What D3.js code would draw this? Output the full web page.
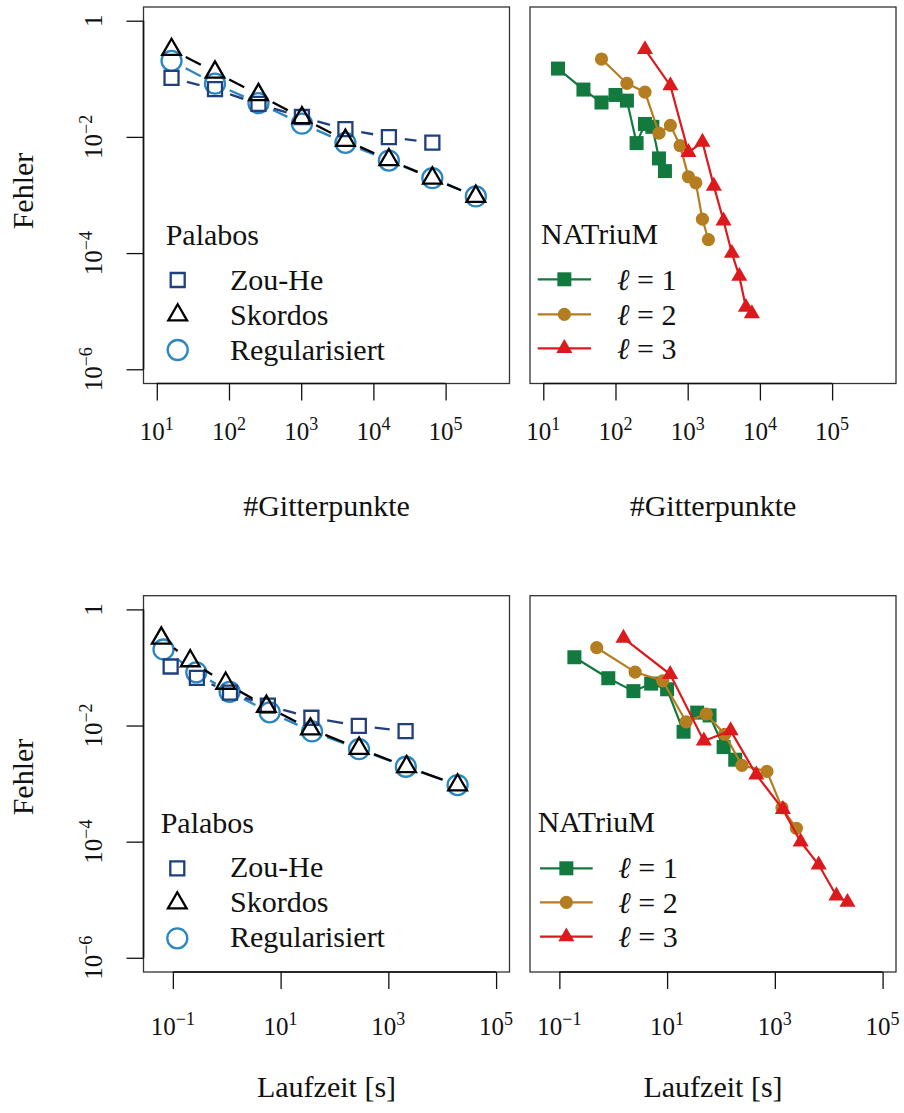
<!DOCTYPE html>
<html>
<head>
<meta charset="utf-8">
<script src="https://cdn.jsdelivr.net/npm/d3@7"></script>
<style>
    body { margin: 0; background: #fff; }
    svg text { font-family: "Liberation Serif", "DejaVu Serif", serif; fill: #111; }
</style>
</head>
<body>
<svg id="chart" width="904" height="1113" font-family="Liberation Serif, DejaVu Serif, serif"></svg>
<script>
// ---- data ----
const palabosPoints = [16, 64, 256, 1024, 4096, 16384, 65536, 262144];
const zouHeErr    = [0.104, 0.0664, 0.0369, 0.0220, 0.0136, 0.0099, 0.0080];
const skordosErr  = [0.319, 0.130, 0.0533, 0.0213, 0.00871, 0.00404, 0.00195, 0.000944];
const regErr      = [0.204, 0.0824, 0.038, 0.0169, 0.00792, 0.00391, 0.00195, 0.000944];
const zouHeTime   = [0.091, 0.279, 1.15, 5.8, 37.3, 283, 2090];
const skordosTime = [0.061, 0.21, 0.955, 5.45, 35.8, 286, 2180, 19300];
const regTime     = [0.067, 0.272, 1.13, 6.27, 38.4, 286, 2110, 19300];

const natPoints1 = [16, 36, 64, 100, 144, 196, 256, 324, 400, 484];
const natPoints2 = [64, 144, 256, 400, 576, 784, 1024, 1296, 1600, 1936];
const natPoints3 = [256, 576, 1024, 1600, 2304, 3136, 4096, 5184, 6400, 7744];
const natErr1 = [0.150, 0.0653, 0.0391, 0.0527, 0.0421, 0.00782, 0.0167, 0.0149, 0.00426, 0.00258];
const natErr2 = [0.219, 0.0832, 0.0589, 0.0116, 0.0158, 0.00708, 0.00206, 0.00162, 0.000383, 0.00017];
const natErr3 = [0.32, 0.0762, 0.00543, 0.00817, 0.00142, 0.00036, 9.95e-5, 4.0e-5, 1.17e-5, 9.06e-6];
const natTime1 = [0.19, 0.81, 2.37, 5.06, 10.0, 20.2, 36.2, 61.4, 112, 184];
const natTime2 = [0.493, 2.55, 8.3, 22.6, 53.3, 117, 245, 713, 1355, 2510];
const natTime3 = [1.55, 11.4, 48.1, 151, 453, 1413, 3020, 6520, 13900, 22300];

const palabosLabels = ['Zou-He', 'Skordos', 'Regularisiert'];
const natriumLevels = [1, 2, 3];

// tick exponents
const gridTicks = [1, 2, 3, 4, 5];
const timeTicks = [-1, 1, 3, 5];
const errTicks = [0, -2, -4, -6];

// ---- layout ----
let svg = d3.select('#chart');

const leftX = [143.5, 509.5], rightX = [530, 896];
const topY = [7, 383.5], botY = [595.7, 972];

const errDomain = [Math.pow(10, -6.245), Math.pow(10, 0.236)];
const gridDomain = [Math.pow(10, 0.816), Math.pow(10, 5.885)];
const timeDomain = [Math.pow(10, -1.545), Math.pow(10, 5.249)];

const yTop = d3.scaleLog().domain(errDomain).range([topY[1], topY[0]]);
const yBot = d3.scaleLog().domain(errDomain).range([botY[1], botY[0]]);
const xGridL = d3.scaleLog().domain(gridDomain).range(leftX);
const xGridR = d3.scaleLog().domain(gridDomain).range(rightX);
const xTimeL = d3.scaleLog().domain(timeDomain).range(leftX);
const xTimeR = d3.scaleLog().domain(timeDomain).range(rightX);

const colZou = '#1f3f7d', colSko = '#000000', colReg = '#2b87c2';
const natColors = ['#12793f', '#b47d1f', '#dc1a1e'];

//write 10^e as text with a raised exponent
function powLabel(text, e) {
    if (e === 0) { text.text('1'); return; }
    text.append('tspan').text('10');
    text.append('tspan')
        .attr('dy', -10)
        .style('font-size', '18px')
        .text(e < 0 ? '\u2212' + (-e) : e);
}

function drawFrame(xr, yr) {
    svg.append('rect')
        .attr('x', xr[0]).attr('y', yr[0])
        .attr('width', xr[1] - xr[0]).attr('height', yr[1] - yr[0])
        .attr('fill', 'none').attr('stroke', '#333').attr('stroke-width', 1.3);
}

function drawXAxis(x, yPos, exps, labelY, title, titleY) {
    let vals = exps.map(e => Math.pow(10, e));
    let g = svg.append('g').attr('transform', `translate(0,${yPos})`)
        .call(d3.axisBottom(x).tickValues(vals).tickSize(17).tickFormat(''));
    g.select('.domain').remove();
    g.selectAll('.tick line').attr('stroke', '#111').attr('stroke-width', 1.3);
    svg.append('line')
        .attr('x1', x(vals[0])).attr('x2', x(vals[vals.length - 1]))
        .attr('y1', yPos).attr('y2', yPos)
        .attr('stroke', '#111').attr('stroke-width', 1.6);
    exps.forEach(e => {
        let t = svg.append('text')
            .attr('x', x(Math.pow(10, e))).attr('y', labelY)
            .attr('text-anchor', 'middle').style('font-size', '25px');
        powLabel(t, e);
    });
    let r = x.range();
    svg.append('text')
        .attr('x', (r[0] + r[1]) / 2).attr('y', titleY)
        .attr('text-anchor', 'middle').style('font-size', '30px')
        .text(title);
}

function drawYAxis(y, xPos, exps, labelX, titleY) {
    let vals = exps.map(e => Math.pow(10, e));
    let g = svg.append('g').attr('transform', `translate(${xPos},0)`)
        .call(d3.axisLeft(y).tickValues(vals).tickSize(17).tickFormat(''));
    g.select('.domain').remove();
    g.selectAll('.tick line').attr('stroke', '#111').attr('stroke-width', 1.3);
    svg.append('line')
        .attr('x1', xPos).attr('x2', xPos)
        .attr('y1', y(vals[0])).attr('y2', y(vals[vals.length - 1]))
        .attr('stroke', '#111').attr('stroke-width', 1.6);
    exps.forEach(e => {
        let t = svg.append('text')
            .attr('transform', `translate(${labelX},${y(Math.pow(10, e))}) rotate(-90)`)
            .attr('text-anchor', 'middle').style('font-size', '25px');
        powLabel(t, e);
    });
    svg.append('text')
        .attr('transform', `translate(33,${titleY}) rotate(-90)`)
        .attr('text-anchor', 'middle').style('font-size', '30px')
        .text('Fehler');
}

function markerPath(type) {
    if (type === 'openSquare') return 'M-7,-7H7V7H-7Z';
    if (type === 'openTri') return 'M0,-10.8L9.35,5.4L-9.35,5.4Z';
    if (type === 'square') return 'M-7,-7H7V7H-7Z';
    if (type === 'tri') return 'M0,-9.3L8.05,4.65L-8.05,4.65Z';
    return null;
}

function marker(g, type, cx, cy, color) {
    if (type === 'openCircle' || type === 'circle') {
        let c = g.append('circle').attr('cx', cx).attr('cy', cy);
        if (type === 'openCircle') {
            c.attr('r', 10).attr('fill', 'none').attr('stroke', color).attr('stroke-width', 2.3);
        } else {
            c.attr('r', 6.6).attr('fill', color);
        }
        return;
    }
    let p = g.append('path')
        .attr('d', markerPath(type))
        .attr('transform', `translate(${cx},${cy})`);
    if (type.startsWith('open')) {
        p.attr('fill', 'none').attr('stroke', color).attr('stroke-width', 2.3);
    } else {
        p.attr('fill', color);
    }
}

//R type "b": line segments stop short of the points
function palabosSeries(x, y, xs, ys, type, color) {
    let g = svg.append('g');
    let pts = xs.map((d, i) => [x(d), y(ys[i])]);
    const gap = 16;
    for (let i = 0; i < pts.length - 1; i++) {
        let a = pts[i], b = pts[i + 1];
        let dx = b[0] - a[0], dy = b[1] - a[1];
        let d = Math.hypot(dx, dy);
        if (d <= 2 * gap) continue;
        let ux = dx / d, uy = dy / d;
        g.append('line')
            .attr('x1', a[0] + ux * gap).attr('y1', a[1] + uy * gap)
            .attr('x2', b[0] - ux * gap).attr('y2', b[1] - uy * gap)
            .attr('stroke', color).attr('stroke-width', 2.3);
    }
    pts.forEach(p => marker(g, type, p[0], p[1], color));
}

function natriumSeries(x, y, xs, ys, type, color) {
    let g = svg.append('g');
    let pts = xs.map((d, i) => [x(d), y(ys[i])]);
    g.append('path')
        .attr('d', d3.line()(pts))
        .attr('fill', 'none').attr('stroke', color).attr('stroke-width', 2.2);
    pts.forEach(p => marker(g, type, p[0], p[1], color));
}

function palabosLegend(tx, ty, mx, rows, textX, textRows) {
    svg.append('text').attr('x', tx).attr('y', ty).style('font-size', '30px').text('Palabos');
    let g = svg.append('g');
    let types = ['openSquare', 'openTri', 'openCircle'];
    let cols = [colZou, colSko, colReg];
    palabosLabels.forEach((lab, i) => {
        marker(g, types[i], mx, rows[i], cols[i]);
        svg.append('text').attr('x', textX).attr('y', textRows[i])
            .style('font-size', '30px').text(lab);
    });
}

function natriumLegend(tx, ty, lx, rows, textX, textRows) {
    svg.append('text').attr('x', tx).attr('y', ty).style('font-size', '30px').text('NATriuM');
    let g = svg.append('g');
    let types = ['square', 'circle', 'tri'];
    natriumLevels.forEach((lv, i) => {
        g.append('line')
            .attr('x1', lx[0]).attr('x2', lx[1]).attr('y1', rows[i]).attr('y2', rows[i])
            .attr('stroke', natColors[i]).attr('stroke-width', 2.2);
        marker(g, types[i], (lx[0] + lx[1]) / 2, rows[i], natColors[i]);
        let t = svg.append('text').attr('x', textX).attr('y', textRows[i]).style('font-size', '30px');
        t.append('tspan').style('font-style', 'italic').text('\u2113');
        t.append('tspan').text(' = ' + lv);
    });
}

// ---- top row: error over grid points ----
drawFrame(leftX, topY);
drawFrame(rightX, topY);
drawYAxis(yTop, leftX[0], errTicks, 102, 191);
drawXAxis(xGridL, topY[1], gridTicks, 440, '#Gitterpunkte', 516);
drawXAxis(xGridR, topY[1], gridTicks, 440, '#Gitterpunkte', 516);

palabosSeries(xGridL, yTop, palabosPoints, regErr, 'openCircle', colReg);
palabosSeries(xGridL, yTop, palabosPoints.slice(0, zouHeErr.length), zouHeErr, 'openSquare', colZou);
palabosSeries(xGridL, yTop, palabosPoints, skordosErr, 'openTri', colSko);
palabosLegend(165.7, 245, 177.7, [280, 315, 350], 230, [290, 325, 360]);

natriumSeries(xGridR, yTop, natPoints1, natErr1, 'square', natColors[0]);
natriumSeries(xGridR, yTop, natPoints2, natErr2, 'circle', natColors[1]);
natriumSeries(xGridR, yTop, natPoints3, natErr3, 'tri', natColors[2]);
natriumLegend(541, 244.3, [537.7, 591], [279.3, 314.3, 348.3], 617, [290, 325, 359]);

// ---- bottom row: error over runtime ----
drawFrame(leftX, botY);
drawFrame(rightX, botY);
drawYAxis(yBot, leftX[0], errTicks, 102, 777);
drawXAxis(xTimeL, botY[1], timeTicks, 1035, 'Laufzeit [s]', 1097);
drawXAxis(xTimeR, botY[1], timeTicks, 1035, 'Laufzeit [s]', 1097);

palabosSeries(xTimeL, yBot, regTime, regErr, 'openCircle', colReg);
palabosSeries(xTimeL, yBot, zouHeTime, zouHeErr, 'openSquare', colZou);
palabosSeries(xTimeL, yBot, skordosTime, skordosErr, 'openTri', colSko);
palabosLegend(160.7, 833.3, 177.3, [868.3, 903, 938.3], 230, [877, 912, 947]);

natriumSeries(xTimeR, yBot, natTime1, natErr1, 'square', natColors[0]);
natriumSeries(xTimeR, yBot, natTime2, natErr2, 'circle', natColors[1]);
natriumSeries(xTimeR, yBot, natTime3, natErr3, 'tri', natColors[2]);
natriumLegend(537.7, 832.3, [540, 592.7], [868.3, 902.3, 936.7], 618.3, [878, 913, 947]);
</script>
</body>
</html>
